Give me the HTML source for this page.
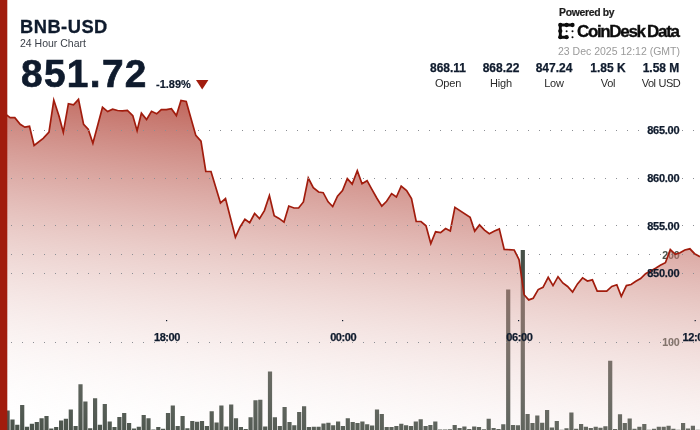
<!DOCTYPE html>
<html lang="en">
<head>
<meta charset="utf-8">
<title>BNB-USD 24 Hour Chart</title>
<style>
html,body{margin:0;padding:0;}
body{width:700px;height:430px;overflow:hidden;background:#fff;position:relative;font-family:"Liberation Sans","DejaVu Sans",sans-serif;color:#0f1b2d;}
#chart{position:absolute;left:0;top:0;width:700px;height:430px;display:block;will-change:transform;}
.t{position:absolute;white-space:nowrap;line-height:1;will-change:transform;}
.pair{font-weight:700;font-size:18.3px;left:20.3px;top:17.8px;letter-spacing:0.5px;-webkit-text-stroke:0.3px #0f1b2d;}
.sub{font-size:10.5px;left:20px;top:38.2px;color:#3a3f48;}
.price{font-weight:700;font-size:38.8px;left:20.6px;top:54.8px;letter-spacing:1.35px;-webkit-text-stroke:0.7px #0f1b2d;}
.chg{font-weight:700;font-size:11px;left:156px;top:78.5px;-webkit-text-stroke:0.2px #0f1b2d;}
.pw{font-weight:700;font-size:10.4px;left:558.5px;top:7.5px;color:#1c1c1c;letter-spacing:-0.3px;-webkit-text-stroke:0.2px #1c1c1c;}
.brand{font-weight:700;font-size:17px;left:577.3px;top:23px;color:#0c0c0c;letter-spacing:-1.35px;-webkit-text-stroke:0.35px #0c0c0c;}
.date{font-size:10.5px;right:20px;top:46.3px;color:#9a9a9a;}
.stat{position:absolute;width:60px;text-align:center;top:61px;will-change:transform;}
.stat b{display:block;font-size:12px;line-height:14px;font-weight:700;color:#0f1b2d;-webkit-text-stroke:0.25px #0f1b2d;}
.stat span{display:block;font-size:11px;line-height:14px;color:#2a2a2a;margin-top:1px;letter-spacing:-0.2px;}
svg text{font-family:"Liberation Sans","DejaVu Sans",sans-serif;font-weight:700;}
</style>
</head>
<body>
<svg id="chart" width="700" height="430" viewBox="0 0 700 430">
<defs>
<linearGradient id="ag" gradientUnits="userSpaceOnUse" x1="0" y1="0" x2="-50.8" y2="430.7">
<stop offset="0" stop-color="#a11c0d" stop-opacity="1"/>
<stop offset="0.0625" stop-color="#a72a1c" stop-opacity="0.9375"/>
<stop offset="0.125" stop-color="#ad382b" stop-opacity="0.875"/>
<stop offset="0.1875" stop-color="#b3473a" stop-opacity="0.8125"/>
<stop offset="0.25" stop-color="#b8554a" stop-opacity="0.75"/>
<stop offset="0.3125" stop-color="#be6359" stop-opacity="0.6875"/>
<stop offset="0.375" stop-color="#c47168" stop-opacity="0.625"/>
<stop offset="0.4375" stop-color="#ca7f77" stop-opacity="0.5625"/>
<stop offset="0.5" stop-color="#d08e86" stop-opacity="0.5"/>
<stop offset="0.5625" stop-color="#d69c95" stop-opacity="0.4375"/>
<stop offset="0.625" stop-color="#dcaaa4" stop-opacity="0.375"/>
<stop offset="0.6875" stop-color="#e2b8b3" stop-opacity="0.3125"/>
<stop offset="0.75" stop-color="#e8c6c2" stop-opacity="0.25"/>
<stop offset="0.8125" stop-color="#edd4d2" stop-opacity="0.1875"/>
<stop offset="0.875" stop-color="#f3e3e1" stop-opacity="0.125"/>
<stop offset="0.9375" stop-color="#f9f1f0" stop-opacity="0.0625"/>
<stop offset="1" stop-color="#ffffff" stop-opacity="0"/>
</linearGradient>
</defs>
<path d="M5.5 430v-19.5h4.2v19.5zM10.4 430v-10.4h4.2v10.4zM15.2 430v-5.3h4.2v5.3zM20.1 430v-24.9h4.2v24.9zM24.9 430v-3.2h4.2v3.2zM29.8 430v-6.2h4.2v6.2zM34.7 430v-7.9h4.2v7.9zM39.5 430v-11.8h4.2v11.8zM44.4 430v-14h4.2v14zM49.2 430v-1.4h4.2v1.4zM54.1 430v-2.9h4.2v2.9zM59 430v-9.4h4.2v9.4zM63.8 430v-11.2h4.2v11.2zM68.7 430v-20.6h4.2v20.6zM73.5 430v-4h4.2v4zM78.4 430v-45.8h4.2v45.8zM83.3 430v-28.5h4.2v28.5zM88.1 430v-1.7h4.2v1.7zM93 430v-31.7h4.2v31.7zM97.8 430v-5.3h4.2v5.3zM102.7 430v-25.9h4.2v25.9zM107.6 430v-8.6h4.2v8.6zM112.4 430v-2.9h4.2v2.9zM117.3 430v-13h4.2v13zM122.1 430v-16.9h4.2v16.9zM127 430v-6.9h4.2v6.9zM131.9 430v-1.4h4.2v1.4zM136.7 430v-3.3h4.2v3.3zM141.6 430v-15.1h4.2v15.1zM146.4 430v-11.8h4.2v11.8zM151.3 430v-0.5h4.2v0.5zM156.2 430v-2.9h4.2v2.9zM161 430v-1.2h4.2v1.2zM165.9 430v-16.9h4.2v16.9zM170.7 430v-24.5h4.2v24.5zM175.6 430v-3.9h4.2v3.9zM180.5 430v-14.1h4.2v14.1zM185.3 430v-1.7h4.2v1.7zM190.2 430v-8.9h4.2v8.9zM195 430v-8.2h4.2v8.2zM199.9 430v-8.9h4.2v8.9zM204.8 430v-3.9h4.2v3.9zM209.6 430v-18.7h4.2v18.7zM214.5 430v-7.5h4.2v7.5zM219.3 430v-24.5h4.2v24.5zM224.2 430v-3.6h4.2v3.6zM229.1 430v-25.6h4.2v25.6zM233.9 430v-11.8h4.2v11.8zM238.8 430v-2.9h4.2v2.9zM243.6 430v-1h4.2v1zM248.5 430v-12.7h4.2v12.7zM253.4 430v-29.8h4.2v29.8zM258.2 430v-30.3h4.2v30.3zM263.1 430v-3.6h4.2v3.6zM267.9 430v-58.4h4.2v58.4zM272.8 430v-12.7h4.2v12.7zM277.7 430v-3.9h4.2v3.9zM282.5 430v-23.1h4.2v23.1zM287.4 430v-7.9h4.2v7.9zM292.2 430v-4.8h4.2v4.8zM297.1 430v-18h4.2v18zM302 430v-23.8h4.2v23.8zM306.8 430v-2.9h4.2v2.9zM311.7 430v-3.2h4.2v3.2zM316.5 430v-3.3h4.2v3.3zM321.4 430v-6.5h4.2v6.5zM326.3 430v-7.2h4.2v7.2zM331.1 430v-4.8h4.2v4.8zM336 430v-8.4h4.2v8.4zM340.8 430v-3.9h4.2v3.9zM345.7 430v-11.8h4.2v11.8zM350.6 430v-7.9h4.2v7.9zM355.4 430v-6.9h4.2v6.9zM360.3 430v-8.6h4.2v8.6zM365.1 430v-5.8h4.2v5.8zM370 430v-4.6h4.2v4.6zM374.9 430v-20.6h4.2v20.6zM379.7 430v-15.9h4.2v15.9zM384.6 430v-2.9h4.2v2.9zM389.4 430v-2.9h4.2v2.9zM394.3 430v-4h4.2v4zM399.2 430v-6.2h4.2v6.2zM404 430v-4.8h4.2v4.8zM408.9 430v-3.9h4.2v3.9zM413.7 430v-8.6h4.2v8.6zM418.6 430v-10.8h4.2v10.8zM423.5 430v-3.9h4.2v3.9zM428.3 430v-5h4.2v5zM433.2 430v-8.6h4.2v8.6zM438 430v-0.4h4.2v0.4zM442.9 430v-0.4h4.2v0.4zM447.8 430v-0.7h4.2v0.7zM452.6 430v-5h4.2v5zM457.5 430v-1.9h4.2v1.9zM462.3 430v-3.6h4.2v3.6zM467.2 430v-1h4.2v1zM472.1 430v-3.6h4.2v3.6zM476.9 430v-2.9h4.2v2.9zM481.8 430v-0.7h4.2v0.7zM486.6 430v-11.2h4.2v11.2zM491.5 430v-1.9h4.2v1.9zM496.4 430v-0.9h4.2v0.9zM501.2 430v-5.8h4.2v5.8zM506.1 430v-140.4h4.2v140.4zM510.9 430v-5h4.2v5zM515.8 430v-4.8h4.2v4.8zM520.7 430v-180h4.2v180zM525.5 430v-15.9h4.2v15.9zM530.4 430v-6.9h4.2v6.9zM535.2 430v-14.4h4.2v14.4zM540.1 430v-7.2h4.2v7.2zM545 430v-19.9h4.2v19.9zM549.8 430v-2.6h4.2v2.6zM554.7 430v-8.9h4.2v8.9zM559.5 430v-0.3h4.2v0.3zM564.4 430v-1.7h4.2v1.7zM569.3 430v-17.6h4.2v17.6zM574.1 430v-1.3h4.2v1.3zM579 430v-6h4.2v6zM583.8 430v-3.2h4.2v3.2zM588.7 430v-1.9h4.2v1.9zM593.6 430v-3.3h4.2v3.3zM598.4 430v-2.2h4.2v2.2zM603.3 430v-3.7h4.2v3.7zM608.1 430v-69.2h4.2v69.2zM613 430v-0.9h4.2v0.9zM617.9 430v-15.8h4.2v15.8zM622.7 430v-7.1h4.2v7.1zM627.6 430v-11.5h4.2v11.5zM632.4 430v-1.3h4.2v1.3zM637.3 430v-3.2h4.2v3.2zM642.2 430v-6h4.2v6zM647 430v-0.3h4.2v0.3zM651.9 430v-1.3h4.2v1.3zM656.7 430v-3.2h4.2v3.2zM661.6 430v-3.2h4.2v3.2zM666.5 430v-4.3h4.2v4.3zM671.3 430v-1.3h4.2v1.3zM676.2 430v-0.3h4.2v0.3zM681 430v-6.9h4.2v6.9zM685.9 430v-1.5h4.2v1.5zM690.8 430v-4.3h4.2v4.3zM695.6 430v-0.2h4.2v0.2z" fill="#464f47"/>
<g font-size="10.7" fill="#4a534b" stroke="#4a534b" stroke-width="0.1" text-anchor="end" letter-spacing="-0.2">
<text x="679.5" y="258.6">200</text>
<text x="679.5" y="346.3">100</text>
</g>
<path d="M0 113.5 L5.2 114.2 L6.9 115.2 L10.1 117.7 L14.8 117.7 L20.2 124.3 L24.8 127.2 L29.5 126.3 L34.1 145.5 L43.2 138.3 L49 132.1 L53.8 100.1 L59 116 L63.3 132.3 L68.4 103.7 L73.5 104.8 L78.5 99.4 L83.6 124.3 L88.2 129.2 L92.9 143.3 L102.5 107.3 L107.7 111.6 L112.6 109.2 L117.6 110.5 L122.4 110.9 L127.4 110.5 L132.8 115.6 L137.1 130.7 L141.4 113.1 L146.6 119.5 L151.5 111.3 L156.7 113.8 L161.3 109.7 L166.3 109.7 L171.4 108.7 L176.4 115.6 L181 100.4 L186.2 101.5 L195.8 135.4 L201 141.1 L205.8 171.5 L211 171.5 L220.5 202.9 L225.5 198.6 L235.4 237.3 L240.1 227 L244.9 219.2 L249.7 222.7 L254.6 213.5 L259.5 218.7 L264.4 210.6 L269.4 195.6 L274.2 215.8 L279 218.4 L284 222.1 L288.8 206 L294 208 L298.6 208 L303.4 202 L308.3 178 L313.3 187.7 L318.6 192 L323.2 192.7 L328.1 201.8 L332.7 206.5 L337.5 196.1 L342.5 190.6 L347.3 178.6 L352.2 184.1 L357.3 170.7 L362 183.8 L367.1 180.7 L371.9 189.3 L376.9 198.2 L381.8 206.1 L386.6 201.3 L391.6 193.6 L396.4 197 L401.2 186.2 L406.6 190.6 L411.5 198.5 L416.2 221.5 L421 221.5 L426 225.8 L430.8 243.5 L435.6 231.8 L440.6 232.7 L445.6 228.5 L450.3 231 L454.9 207.4 L470.1 217.2 L474.7 231.1 L479.5 224.9 L484.5 230.1 L489.3 233.7 L494.5 231.1 L499.3 228.9 L504.2 249.4 L514.2 250 L519 259.5 L524.1 294.7 L528.7 299.9 L533.2 298.2 L538.2 289.6 L543 287.3 L548.2 277.3 L553 285.6 L558 276.7 L562.8 283 L567.6 286.5 L572.6 292 L577.5 283.9 L582.6 277.9 L587.4 281 L592.4 279.8 L597.2 291.1 L606.7 291.1 L611.8 286.4 L616.8 284.7 L621.3 296.3 L626.4 285.6 L631.1 284.5 L635.8 281.3 L640.6 278.5 L645.6 273.7 L655.6 268.2 L660.3 265.3 L665.4 262.7 L670.3 249.5 L675.3 254.3 L680.1 252.7 L684.8 250 L689.9 248.8 L694.6 253.7 L700 256.8 L700 430 L0 430 Z" fill="url(#ag)"/>
<path d="M0 113.5 L5.2 114.2 L6.9 115.2 L10.1 117.7 L14.8 117.7 L20.2 124.3 L24.8 127.2 L29.5 126.3 L34.1 145.5 L43.2 138.3 L49 132.1 L53.8 100.1 L59 116 L63.3 132.3 L68.4 103.7 L73.5 104.8 L78.5 99.4 L83.6 124.3 L88.2 129.2 L92.9 143.3 L102.5 107.3 L107.7 111.6 L112.6 109.2 L117.6 110.5 L122.4 110.9 L127.4 110.5 L132.8 115.6 L137.1 130.7 L141.4 113.1 L146.6 119.5 L151.5 111.3 L156.7 113.8 L161.3 109.7 L166.3 109.7 L171.4 108.7 L176.4 115.6 L181 100.4 L186.2 101.5 L195.8 135.4 L201 141.1 L205.8 171.5 L211 171.5 L220.5 202.9 L225.5 198.6 L235.4 237.3 L240.1 227 L244.9 219.2 L249.7 222.7 L254.6 213.5 L259.5 218.7 L264.4 210.6 L269.4 195.6 L274.2 215.8 L279 218.4 L284 222.1 L288.8 206 L294 208 L298.6 208 L303.4 202 L308.3 178 L313.3 187.7 L318.6 192 L323.2 192.7 L328.1 201.8 L332.7 206.5 L337.5 196.1 L342.5 190.6 L347.3 178.6 L352.2 184.1 L357.3 170.7 L362 183.8 L367.1 180.7 L371.9 189.3 L376.9 198.2 L381.8 206.1 L386.6 201.3 L391.6 193.6 L396.4 197 L401.2 186.2 L406.6 190.6 L411.5 198.5 L416.2 221.5 L421 221.5 L426 225.8 L430.8 243.5 L435.6 231.8 L440.6 232.7 L445.6 228.5 L450.3 231 L454.9 207.4 L470.1 217.2 L474.7 231.1 L479.5 224.9 L484.5 230.1 L489.3 233.7 L494.5 231.1 L499.3 228.9 L504.2 249.4 L514.2 250 L519 259.5 L524.1 294.7 L528.7 299.9 L533.2 298.2 L538.2 289.6 L543 287.3 L548.2 277.3 L553 285.6 L558 276.7 L562.8 283 L567.6 286.5 L572.6 292 L577.5 283.9 L582.6 277.9 L587.4 281 L592.4 279.8 L597.2 291.1 L606.7 291.1 L611.8 286.4 L616.8 284.7 L621.3 296.3 L626.4 285.6 L631.1 284.5 L635.8 281.3 L640.6 278.5 L645.6 273.7 L655.6 268.2 L660.3 265.3 L665.4 262.7 L670.3 249.5 L675.3 254.3 L680.1 252.7 L684.8 250 L689.9 248.8 L694.6 253.7 L700 256.8" fill="none" stroke="#a11c0d" stroke-width="1.7" stroke-linejoin="miter" stroke-miterlimit="10" stroke-linecap="butt"/>
<g stroke="#8b8e94" stroke-width="1" stroke-dasharray="1 10" fill="none" shape-rendering="crispEdges">
<line x1="0" y1="130.5" x2="700" y2="130.5"/>
<line x1="0" y1="178.5" x2="700" y2="178.5"/>
<line x1="0" y1="225.5" x2="700" y2="225.5"/>
<line x1="0" y1="254.5" x2="700" y2="254.5"/>
<line x1="0" y1="273.5" x2="700" y2="273.5"/>
<line x1="0" y1="342.5" x2="700" y2="342.5"/>
</g>
<g font-size="11" fill="#0f1b2d" stroke="#0f1b2d" stroke-width="0.25" text-anchor="end" letter-spacing="-0.25">
<text x="679.3" y="134.4">865.00</text>
<text x="679.3" y="182.1">860.00</text>
<text x="679.3" y="229.6">855.00</text>
<text x="679.3" y="277.2">850.00</text>
</g>
<g font-size="11" fill="#0f1b2d" stroke="#0f1b2d" stroke-width="0.25" text-anchor="middle" letter-spacing="-0.4">
<text x="167" y="340.9">18:00</text>
<text x="343.2" y="340.9">00:00</text>
<text x="519.3" y="340.9">06:00</text>
<text x="695.6" y="340.9">12:00</text>
</g>
<g fill="#0f1b2d">
<rect x="166" y="320" width="1.2" height="1.2"/>
<rect x="342" y="320" width="1.2" height="1.2"/>
<rect x="518" y="320" width="1.2" height="1.2"/>
<rect x="694.6" y="320" width="1.2" height="1.2"/>
</g>
<rect x="0" y="0" width="7.3" height="430" fill="#a11c0d"/>
</svg>
<div class="t pair">BNB-USD</div>
<div class="t sub">24 Hour Chart</div>
<div class="t price">851.72</div>
<div class="t chg">-1.89%</div>
<svg style="position:absolute;left:196px;top:80px" width="13" height="10" viewBox="0 0 13 10"><path d="M0 0H12.4L6.2 9.6Z" fill="#a11c0d"/></svg>
<div class="t pw">Powered by</div>
<svg style="position:absolute;left:557px;top:22px" width="19" height="19" viewBox="0 0 19 19">
<g fill="#0c0c0c" stroke="#0c0c0c">
<path d="M3.3 3H15.5M3.3 3V15.2M3.3 15.2H9.6" fill="none" stroke-width="2.9" stroke-linecap="round"/>
<circle cx="3.3" cy="3" r="2.15" stroke="none"/><circle cx="9.6" cy="3" r="2.15" stroke="none"/><circle cx="15.5" cy="3" r="2.15" stroke="none"/>
<circle cx="3.3" cy="9.1" r="2.15" stroke="none"/><circle cx="3.3" cy="15.2" r="2.15" stroke="none"/><circle cx="9.6" cy="15.2" r="2.15" stroke="none"/>
<circle cx="9.6" cy="9.2" r="1" stroke="none"/><circle cx="15.5" cy="9.2" r="1" stroke="none"/><circle cx="15.5" cy="15.2" r="1" stroke="none"/>
</g>
</svg>
<div class="t brand">CoinDesk<span style="margin-left:2.5px">Data</span></div>
<div class="t date">23 Dec 2025 12:12 (GMT)</div>
<div class="stat" style="left:418px"><b>868.11</b><span>Open</span></div>
<div class="stat" style="left:471px"><b>868.22</b><span>High</span></div>
<div class="stat" style="left:524px"><b>847.24</b><span>Low</span></div>
<div class="stat" style="left:578px"><b>1.85 K</b><span>Vol</span></div>
<div class="stat" style="left:630.5px"><b>1.58 M</b><span style="letter-spacing:-0.5px;word-spacing:0.5px">Vol USD</span></div>
</body>
</html>
